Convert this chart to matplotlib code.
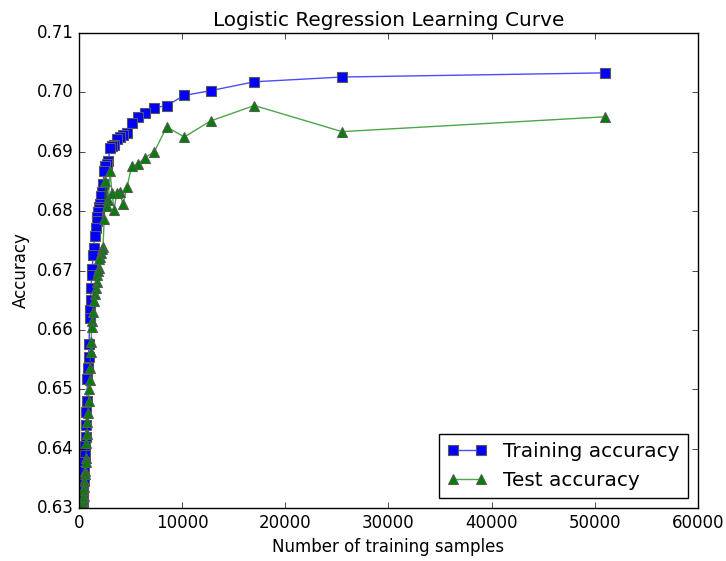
import matplotlib
matplotlib.use("Agg")
import matplotlib.pyplot as plt

plt.style.use("classic")

train_sizes = [51000, 25500, 17000, 12750, 10200, 8500, 7286, 6375, 5667, 5100,
               4636, 4250, 3923, 3643, 3400, 3188, 3000, 2833, 2684, 2550,
               2429, 2318, 2217, 2125, 2040, 1962, 1889, 1821, 1759, 1700,
               1594, 1500, 1417, 1342, 1275, 1214, 1159, 1109, 1063, 1020,
               962, 911, 850, 797, 750, 708, 662, 622, 580, 537,
               500, 464, 425, 392, 359, 329, 300]

train_acc = [0.7033, 0.7026, 0.7018, 0.7003, 0.6995, 0.6978, 0.6974, 0.6965, 0.6959, 0.6948,
             0.6932, 0.6928, 0.6925, 0.6922, 0.6912, 0.6910, 0.6906, 0.6885, 0.6880, 0.6876,
             0.6868, 0.6846, 0.6832, 0.6825, 0.6812, 0.6807, 0.6803, 0.6799, 0.6790, 0.6784,
             0.6772, 0.6758, 0.6738, 0.6726, 0.6702, 0.6692, 0.6670, 0.6650, 0.6633, 0.6620,
             0.6577, 0.6555, 0.6535, 0.6517, 0.6480, 0.6462, 0.6440, 0.6420, 0.6404, 0.6390,
             0.6378, 0.6362, 0.6345, 0.6333, 0.6318, 0.6305, 0.6295]

test_acc = [0.6959, 0.6934, 0.6978, 0.6952, 0.6925, 0.6942, 0.6900, 0.6890, 0.6879, 0.6876,
            0.6840, 0.6812, 0.6832, 0.6831, 0.6802, 0.6830, 0.6868, 0.6819, 0.6808, 0.6851,
            0.6787, 0.6740, 0.6736, 0.6730, 0.6722, 0.6720, 0.6705, 0.6700, 0.6693, 0.6680,
            0.6670, 0.6660, 0.6648, 0.6630, 0.6615, 0.6605, 0.6580, 0.6562, 0.6535, 0.6515,
            0.6500, 0.6480, 0.6460, 0.6445, 0.6425, 0.6410, 0.6385, 0.6378, 0.6362, 0.6358,
            0.6345, 0.6335, 0.6320, 0.6330, 0.6312, 0.6318, 0.6305]

fig = plt.figure(figsize=(7.26, 5.61), dpi=100, facecolor="white")
ax = fig.add_axes([0.109, 0.0945, 0.852, 0.8465])

ax.plot(train_sizes, train_acc, "-", color=(0, 0, 1, 0.7), marker="s",
        markersize=6.5, markerfacecolor=(0, 0, 1, 1), markeredgecolor="0.35",
        markeredgewidth=0.8, label="Training accuracy")
ax.plot(train_sizes, test_acc, "-", color=(0, 0.5, 0, 0.7), marker="^",
        markersize=6.5, markerfacecolor=(0, 0.5, 0, 1), markeredgecolor="0.35",
        markeredgewidth=0.8, label="Test accuracy")

ax.set_xlim(0, 60000)
ax.set_ylim(0.63, 0.71)
ax.set_title("Logistic Regression Learning Curve")
ax.set_xlabel("Number of training samples")
ax.set_ylabel("Accuracy")
ax.legend(loc="lower right")

fig.savefig("out.png", dpi=100, facecolor="white")
